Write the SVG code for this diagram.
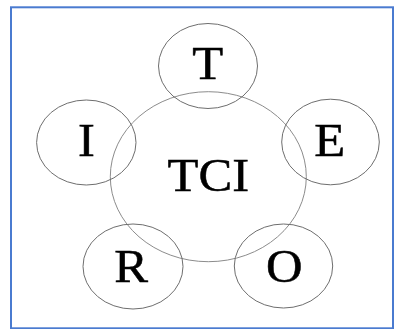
<svg xmlns="http://www.w3.org/2000/svg" width="395" height="329" viewBox="0 0 395 329">
  <style>
    .ring { fill: none; stroke: #6e6e6e; stroke-width: 1; }
    .core { fill: none; stroke: #8c8c8c; stroke-width: 1; }
    .lbl { font-family: "Liberation Serif", "Times New Roman", serif; font-size: 46px; fill: #000; stroke: #000; stroke-width: 0.5; text-anchor: middle; }
  </style>
  <rect x="0" y="0" width="395" height="329" fill="#ffffff"/>
  <!-- frame -->
  <rect x="11" y="7.3" width="382" height="321" fill="none" stroke="#4a7bd0" stroke-width="2"/>

  <g id="node-tci">
    <ellipse class="core" cx="208.3" cy="176.7" rx="98" ry="85"/>
    <text class="lbl" transform="translate(208.3 190.7) scale(1.1 1)">TCI</text>
  </g>
  <g id="node-t">
    <ellipse class="ring" cx="208" cy="66" rx="49.5" ry="42.5"/>
    <text class="lbl" transform="translate(207.7 79.3) scale(1.1 1)">T</text>
  </g>
  <g id="node-i">
    <ellipse class="ring" cx="86.3" cy="142.5" rx="49.7" ry="42.5"/>
    <text class="lbl" transform="translate(86.3 156) scale(1.1 1)">I</text>
  </g>
  <g id="node-e">
    <ellipse class="ring" cx="330.5" cy="142" rx="48.8" ry="42.8"/>
    <text class="lbl" transform="translate(329.7 156) scale(1.1 1)">E</text>
  </g>
  <g id="node-r">
    <ellipse class="ring" cx="133" cy="266.5" rx="50" ry="42.5"/>
    <text class="lbl" transform="translate(131 281.7) scale(1.1 1)">R</text>
  </g>
  <g id="node-o">
    <ellipse class="ring" cx="283.5" cy="266" rx="49.2" ry="42"/>
    <text class="lbl" transform="translate(284.2 281.5) scale(1.1 1)">O</text>
  </g>
</svg>
